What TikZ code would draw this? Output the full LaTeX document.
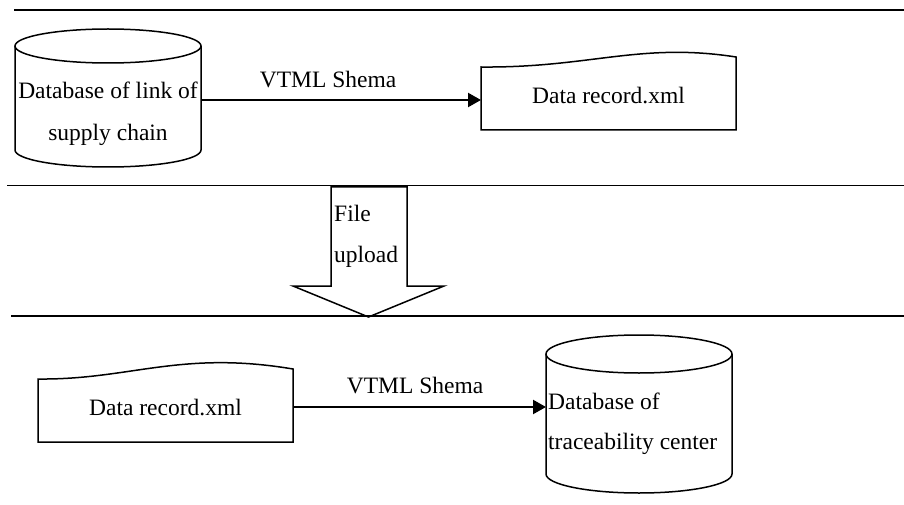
\documentclass[tikz,border=0pt]{standalone}
\usepackage{fontspec}
\setmainfont{Liberation Serif}
\usetikzlibrary{arrows.meta,calc}

% cylinder outline drawn on an invisible frame node: #1 = frame name, #2 = half width, #3 = ellipse y radius
\newcommand\dbshape[3]{%
  \draw[outline] ($(#1.north west)+(0,#3)$) -- ($(#1.south west)+(0,-#3)$)
    arc[start angle=180, end angle=360, x radius=#2pt, y radius=#3pt]
    -- ($(#1.north east)+(0,#3)$);
  \draw[outline] ($(#1.north)+(0,#3)$) ellipse[x radius=#2pt, y radius=#3pt];
}
% document outline with a wavy top edge: #1 = frame name, #2/#3 = control offsets, #4 = left drop
\newcommand\docshape[4]{%
  \draw[outline] (#1.south west) -- ($(#1.north west)+(0,#4)$)
    .. controls ($(#1.north west)+#2$) and ($(#1.north west)+#3$) .. (#1.north east)
    -- (#1.south east) -- cycle;
}

\begin{document}
\begin{tikzpicture}[x=1pt, y=-1pt,
  outline/.style={line width=1.5pt, line join=miter},
  sep/.style={line width=1.7pt},
  frame/.style={inner sep=0pt, outer sep=0pt, draw=none},
  flow/.style={line width=2.2pt, -{Triangle[length=13pt, width=14pt]}},
  lbl/.style={inner sep=0pt, font=\fontsize{23.5}{41}\selectfont},
]
\useasboundingbox (0,0) rectangle (904,505);

% ---- frames of the four stores/documents
\node[frame, minimum width=186pt, minimum height=138pt] (db1)  at (108,98)    {};
\node[frame, minimum width=255pt, minimum height=73pt]  (doc1) at (608.5,93.5) {};
\node[frame, minimum width=255pt, minimum height=73pt]  (doc2) at (165.5,405.5) {};
\node[frame, minimum width=186pt, minimum height=158pt] (db2)  at (639,414)   {};

\dbshape{db1}{93}{17}
\dbshape{db2}{93}{19}
\docshape{doc1}{(109,11)}{(159,-15)}{10}
\docshape{doc2}{(92,11)}{(142,-19)}{10}

% ---- upload block arrow
\draw[outline, fill=white] (331,187) -- (331,286) -- (293,286) -- (368.5,317)
  -- (444,286) -- (407,286) -- (407,187) -- cycle;

% ---- separators
\draw[sep] (14,10) -- (904,10);
\draw[sep] (7,185.5) -- (904,185.5);
\draw[sep] (11,316) -- (904,316);

% ---- texts
\node[lbl, align=center, font=\fontsize{23.5}{42}\selectfont] (t1) at (108,114) {Database of link of\\supply chain};
\node[lbl] (t2) at (608.5,96) {Data record.xml};
\node[lbl, align=left, anchor=west] (t3) at (334,236) {File\\upload};
\node[lbl] (t4) at (165.5,407.7) {Data record.xml};
\node[lbl, align=left, anchor=west, font=\fontsize{23.5}{40}\selectfont] (t5) at (548,423.4) {Database of\\traceability center};

% ---- connectors
\coordinate (r1) at (0,100);
\coordinate (r2) at (0,407);
\draw[flow] (db1.east |- r1) -- (doc1.west |- r1);
\draw[flow] (doc2.east |- r2) -- (db2.west |- r2);
\node[lbl] (v1) at (328,79.4) {VTML Shema};
\node[lbl] (v2) at (415,386) {VTML Shema};
\end{tikzpicture}
\end{document}
